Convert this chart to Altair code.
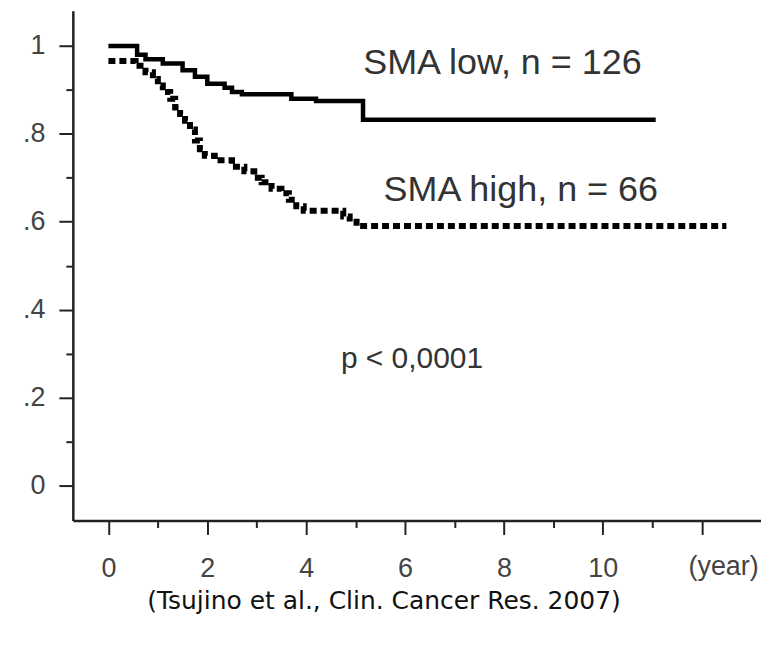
import altair as alt
import pandas as pd

# SMA low (solid) Kaplan-Meier steps
low_t = [0, 0.58, 0.75, 1.1, 1.5, 1.75, 2.0, 2.35, 2.5, 2.7, 3.7, 4.2, 5.15, 11.07]
low_s = [1.0, 0.98, 0.97, 0.96, 0.945, 0.93, 0.914, 0.905, 0.895, 0.89, 0.88, 0.875, 0.832, 0.832]

# SMA high (dashed) Kaplan-Meier steps
high_t = [0, 0.55, 0.75, 0.9, 1.0, 1.1, 1.25, 1.35, 1.45, 1.55, 1.65, 1.75, 1.85, 1.95,
          2.15, 2.5, 2.75, 2.95, 3.1, 3.3, 3.5, 3.65, 3.8, 3.95, 4.75, 4.88, 5.02, 12.5]
high_s = [0.966, 0.955, 0.94, 0.925, 0.91, 0.895, 0.88, 0.86, 0.845, 0.83, 0.81, 0.785, 0.765, 0.75,
          0.74, 0.725, 0.715, 0.70, 0.69, 0.675, 0.665, 0.65, 0.635, 0.625, 0.612, 0.60, 0.59, 0.59]

y_major = [0, 0.2, 0.4, 0.6, 0.8, 1.0]
y_minor = [0.1, 0.3, 0.5, 0.7, 0.9]
x_major = [0, 2, 4, 6, 8, 10, 12]
x_minor = [1, 3, 5, 7, 9, 11]

ann_text = ["SMA low, n = 126", "SMA high, n = 66"]
ann_t = [7.97, 8.34]
ann_s = [0.936, 0.648]

p_text = ["p < 0,0001"]
p_t = [6.14]
p_s = [0.268]

x_title = "(year)"
citation = "(Tsujino et al., Clin. Cancer Res. 2007)"

df_low = pd.DataFrame({"t": low_t, "s": low_s})
df_high = pd.DataFrame({"t": high_t, "s": high_s})
df_ann = pd.DataFrame({"t": ann_t, "s": ann_s, "label": ann_text})
df_p = pd.DataFrame({"t": p_t, "s": p_s, "label": p_text})

xs = alt.Scale(domain=[-0.72, 13.2], nice=False, zero=False)
ys = alt.Scale(domain=[-0.08, 1.08], nice=False, zero=False)

AX = "#222222"
LBL = "#444444"

x_major_axis = alt.Axis(
    orient="bottom", values=x_major, grid=False,
    domainColor=AX, domainWidth=2.5, tickColor=AX, tickWidth=2, tickSize=14,
    labelFont="Liberation Sans", labelFontSize=27, labelColor=LBL, labelPadding=21,
    labelExpr="datum.value == 12 ? '' : datum.label",
    title=x_title, titleFont="Liberation Sans", titleFontSize=27, titleFontWeight="normal",
    titleColor=LBL, titleX=652, titleY=46, titleAlign="center", titleBaseline="middle",
)
x_minor_axis = alt.Axis(
    orient="bottom", values=x_minor, grid=False, domain=False, labels=False, title=None,
    tickColor=AX, tickWidth=2, tickSize=7,
)
y_major_axis = alt.Axis(
    orient="left", values=y_major, grid=False,
    domainColor=AX, domainWidth=2.5, tickColor=AX, tickWidth=2, tickSize=14,
    labelFont="Liberation Sans", labelFontSize=27, labelColor=LBL, labelPadding=14,
    labelExpr="datum.value == 1 ? '1' : datum.value == 0 ? '0' : replace(format(datum.value, '.1f'), '0.', '.')",
    title=None,
)
y_minor_axis = alt.Axis(
    orient="left", values=y_minor, grid=False, domain=False, labels=False, title=None,
    tickColor=AX, tickWidth=2, tickSize=7,
)

low_line = alt.Chart(df_low).mark_line(
    interpolate="step-after", color="black", strokeWidth=4.5
).encode(
    x=alt.X("t:Q", scale=xs, axis=x_major_axis),
    y=alt.Y("s:Q", scale=ys, axis=y_major_axis),
)

high_line = alt.Chart(df_high).mark_line(
    interpolate="step-after", color="black", strokeWidth=6, strokeDash=[7, 4]
).encode(
    x=alt.X("t:Q", scale=xs, axis=x_minor_axis),
    y=alt.Y("s:Q", scale=ys, axis=y_minor_axis),
)

ann = alt.Chart(df_ann).mark_text(
    font="Liberation Sans", fontSize=36, color="#333333", align="center", baseline="alphabetic"
).encode(
    x=alt.X("t:Q", scale=xs, axis=None),
    y=alt.Y("s:Q", scale=ys, axis=None),
    text="label:N",
)

ptxt = alt.Chart(df_p).mark_text(
    font="Liberation Sans", fontSize=30, color="#333333", align="center", baseline="alphabetic"
).encode(
    x=alt.X("t:Q", scale=xs, axis=None),
    y=alt.Y("s:Q", scale=ys, axis=None),
    text="label:N",
)

chart = alt.layer(low_line, high_line, ann, ptxt).resolve_axis(
    x="independent", y="independent"
).properties(
    width=690, height=511,
    autosize=alt.AutoSizeParams(type="none"),
    padding={"left": 65, "top": 2, "right": 0, "bottom": 120},
    title=alt.TitleParams(
        citation, orient="bottom", font="DejaVu Sans", fontSize=25, fontWeight="normal",
        color="#111111", anchor="middle", dx=-33, offset=8,
    ),
).configure_view(stroke=None)

chart.save("out.html", embed_options={"renderer": "svg", "actions": False})
